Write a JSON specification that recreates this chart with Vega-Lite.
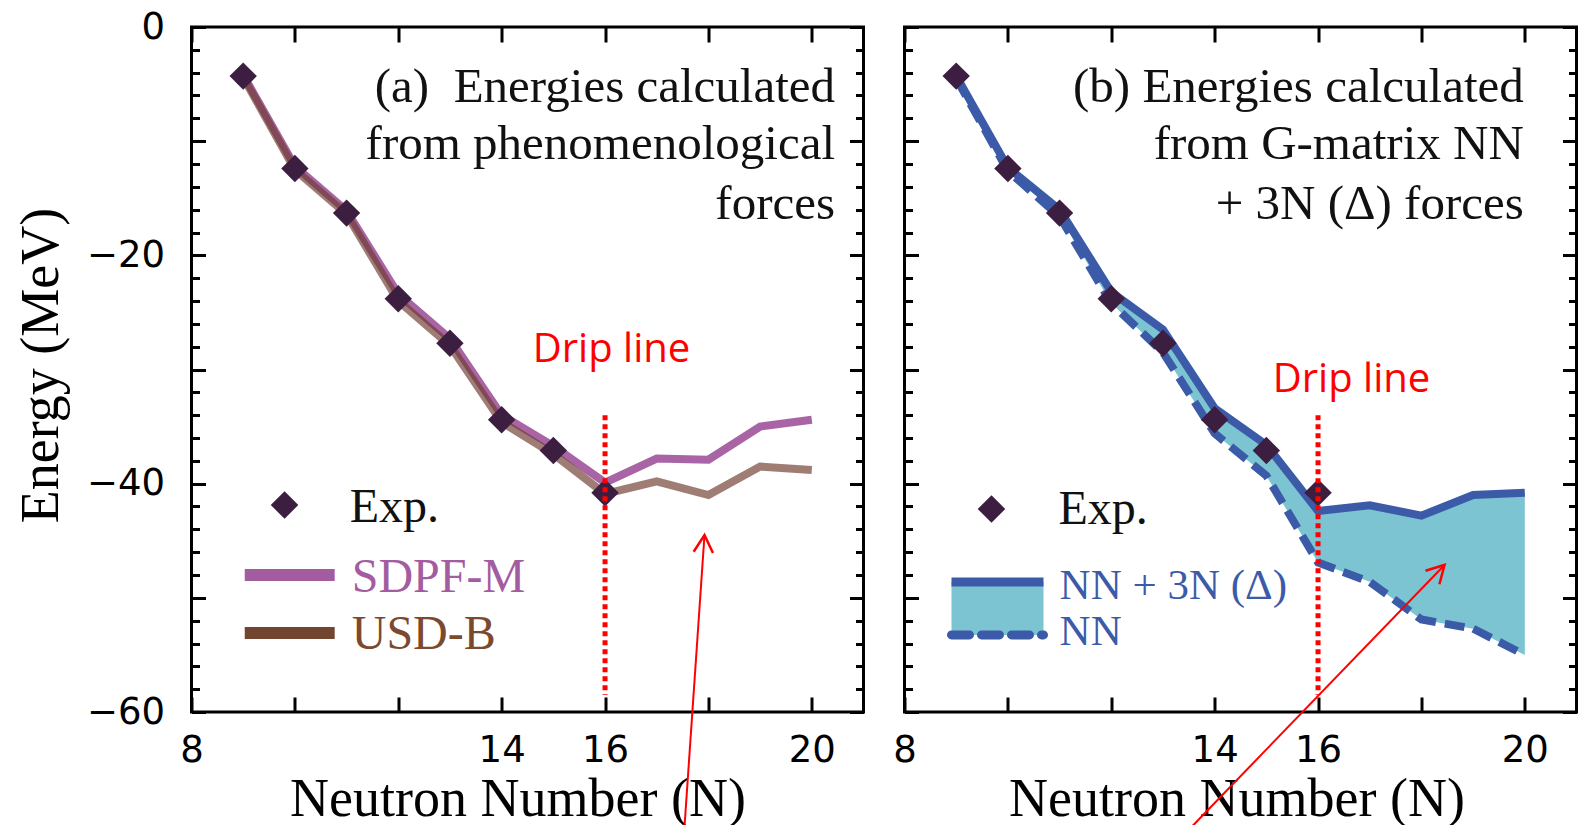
{
  "$schema": "https://vega.github.io/schema/vega-lite/v6.json",
  "background": "white",
  "autosize": {"type": "pad"},
  "padding": {"left": 12.5, "top": 6, "right": 0, "bottom": 0},
  "bounds": "flush",
  "spacing": 41,
  "datasets": {
    "exp": [
      {"N": 9, "E": -4.3}, {"N": 10, "E": -12.4}, {"N": 11, "E": -16.3}, {"N": 12, "E": -23.8},
      {"N": 13, "E": -27.7}, {"N": 14, "E": -34.4}, {"N": 15, "E": -37.1}, {"N": 16, "E": -40.8}
    ],
    "shellA": [
      {"N": 9, "sdpfm": -4.2, "usdb": -4.4},
      {"N": 10, "sdpfm": -12.2, "usdb": -12.5},
      {"N": 11, "sdpfm": -16.1, "usdb": -16.4},
      {"N": 12, "sdpfm": -23.4, "usdb": -24.0},
      {"N": 13, "sdpfm": -27.3, "usdb": -27.9},
      {"N": 14, "sdpfm": -34.0, "usdb": -34.6},
      {"N": 15, "sdpfm": -36.7, "usdb": -37.4},
      {"N": 16, "sdpfm": -39.9, "usdb": -40.9},
      {"N": 17, "sdpfm": -37.8, "usdb": -39.8},
      {"N": 18, "sdpfm": -37.9, "usdb": -41.0},
      {"N": 19, "sdpfm": -35.0, "usdb": -38.5},
      {"N": 20, "sdpfm": -34.4, "usdb": -38.8}
    ],
    "shellB": [
      {"N": 9, "full": -4.3, "nn": -4.5},
      {"N": 10, "full": -12.3, "nn": -12.6},
      {"N": 11, "full": -16.0, "nn": -16.6},
      {"N": 12, "full": -23.2, "nn": -24.2},
      {"N": 13, "full": -26.5, "nn": -28.5},
      {"N": 14, "full": -33.4, "nn": -35.6},
      {"N": 15, "full": -36.6, "nn": -39.3},
      {"N": 16, "full": -42.4, "nn": -46.9},
      {"N": 17, "full": -41.9, "nn": -48.6},
      {"N": 18, "full": -42.8, "nn": -51.9},
      {"N": 19, "full": -41.0, "nn": -52.7},
      {"N": 20, "full": -40.8, "nn": -55.0}
    ],
    "notesA": [
      {"N": 20.45, "E": -6.57, "text": "(a)\u00a0 Energies calculated"},
      {"N": 20.45, "E": -11.56, "text": "from phenomenological"},
      {"N": 20.45, "E": -16.82, "text": "forces"}
    ],
    "notesB": [
      {"N": 19.98, "E": -6.57, "text": "(b) Energies calculated"},
      {"N": 19.98, "E": -11.56, "text": "from G-matrix NN"},
      {"N": 19.98, "E": -16.82, "text": "+ 3N (Δ) forces"}
    ],
    "drip": [{"N": 16, "E": -34, "E2": -58.5}],
    "dripA": [{"N": 16.125, "E": -29.34, "text": "Drip line"}],
    "dripB": [{"N": 16.647, "E": -31.97, "text": "Drip line"}],
    "arrowA": [{"N": 17.537, "E": -70.07, "N2": 17.924, "E2": -44.5}],
    "arrowB": [{"N": 13.552, "E": -70.07, "N2": 18.447, "E2": -47.12}],
    "keyA": [
      {"item": "Exp.", "N": 9.8, "E": -41.87, "Nl": 11.06, "El": -43.36},
      {"item": "SDPF-M", "N": 9.03, "N2": 10.77, "E": -48.0, "Nl": 11.1, "El": -49.49},
      {"item": "USD-B", "N": 9.03, "N2": 10.77, "E": -53.08, "Nl": 11.1, "El": -54.48}
    ],
    "keyB": [
      {"item": "Exp.", "N": 9.683, "E": -42.22, "Nl": 10.98, "El": -43.53},
      {"item": "NN + 3N (Δ)", "N": 8.909, "N2": 10.689, "E": -48.61, "E2": -53.25, "Nl": 11.0, "El": -50.1},
      {"item": "NN", "N": 8.909, "N2": 10.689, "E": -53.25, "Nl": 11.0, "El": -54.13}
    ]
  },
  "hconcat": [
    {
      "width": 672,
      "height": 685,
      "resolve": {"axis": {"x": "independent", "y": "independent"}},
      "layer": [
        {
          "data": {"name": "exp"},
          "mark": {"type": "point", "opacity": 0},
          "encoding": {
            "x": {"field": "N", "type": "quantitative", "scale": {"domain": [8, 21], "nice": false, "zero": false},
              "axis": {"orient": "bottom", "values": [8, 14, 16, 20], "ticks": false, "tickSize": 0, "labelPadding": 20,
                "title": "Neutron Number (N)", "titleX": 326, "titleY": 103, "titleAlign": "center", "titleBaseline": "alphabetic"}},
            "y": {"field": "E", "type": "quantitative", "scale": {"domain": [-60, 0], "nice": false, "zero": false},
              "axis": {"orient": "left", "values": [0, -20, -40, -60], "ticks": false, "tickSize": 0, "labelPadding": 27,
                "title": "Energy (MeV)", "titleAngle": 270, "titleX": -134.5, "titleY": 338, "titleAlign": "center", "titleBaseline": "alphabetic"}}
          }
        },
        {
          "data": {"name": "exp"},
          "mark": {"type": "point", "opacity": 0},
          "encoding": {
            "x": {"field": "N", "type": "quantitative", "scale": {"domain": [8, 21], "nice": false, "zero": false},
              "axis": {"orient": "bottom", "values": [8, 10, 12, 14, 16, 18, 20], "tickSize": -15, "labels": false, "title": null}},
            "y": {"field": "E", "type": "quantitative", "scale": {"domain": [-60, 0], "nice": false, "zero": false},
              "axis": {"orient": "left", "values": [0, -10, -20, -30, -40, -50, -60], "tickSize": -14, "labels": false, "title": null}}
          }
        },
        {
          "data": {"name": "exp"},
          "mark": {"type": "point", "opacity": 0},
          "encoding": {
            "x": {"field": "N", "type": "quantitative", "scale": {"domain": [8, 21], "nice": false, "zero": false},
              "axis": {"orient": "top", "values": [8, 10, 12, 14, 16, 18, 20], "tickSize": -15, "labels": false, "title": null}},
            "y": {"field": "E", "type": "quantitative", "scale": {"domain": [-60, 0], "nice": false, "zero": false},
              "axis": {"orient": "left", "values": [-58, -56, -54, -52, -48, -46, -44, -42, -38, -36, -34, -32, -28, -26, -24, -22, -18, -16, -14, -12, -8, -6, -4, -2], "tickSize": -8, "labels": false, "title": null}}
          }
        },
        {
          "data": {"name": "exp"},
          "mark": {"type": "point", "opacity": 0},
          "encoding": {
            "x": {"field": "N", "type": "quantitative", "scale": {"domain": [8, 21], "nice": false, "zero": false}, "axis": null},
            "y": {"field": "E", "type": "quantitative", "scale": {"domain": [-60, 0], "nice": false, "zero": false},
              "axis": {"orient": "right", "values": [0, -10, -20, -30, -40, -50, -60], "tickSize": -14, "labels": false, "title": null}}
          }
        },
        {
          "data": {"name": "exp"},
          "mark": {"type": "point", "opacity": 0},
          "encoding": {
            "x": {"field": "N", "type": "quantitative", "scale": {"domain": [8, 21], "nice": false, "zero": false}, "axis": null},
            "y": {"field": "E", "type": "quantitative", "scale": {"domain": [-60, 0], "nice": false, "zero": false},
              "axis": {"orient": "right", "values": [-58, -56, -54, -52, -48, -46, -44, -42, -38, -36, -34, -32, -28, -26, -24, -22, -18, -16, -14, -12, -8, -6, -4, -2], "tickSize": -8, "labels": false, "title": null}}
          }
        },
        {
          "data": {"name": "shellA"},
          "mark": {"type": "line", "color": "#A35CA0", "strokeWidth": 8, "opacity": 0.95},
          "encoding": {
            "x": {"field": "N", "type": "quantitative", "scale": {"domain": [8, 21], "nice": false, "zero": false}, "axis": null},
            "y": {"field": "sdpfm", "type": "quantitative", "scale": {"domain": [-60, 0], "nice": false, "zero": false}, "axis": null}
          }
        },
        {
          "data": {"name": "shellA"},
          "mark": {"type": "line", "color": "#6E3A2E", "strokeWidth": 8, "opacity": 0.66},
          "encoding": {
            "x": {"field": "N", "type": "quantitative", "scale": {"domain": [8, 21], "nice": false, "zero": false}, "axis": null},
            "y": {"field": "usdb", "type": "quantitative", "scale": {"domain": [-60, 0], "nice": false, "zero": false}, "axis": null}
          }
        },
        {
          "data": {"name": "exp"},
          "mark": {"type": "point", "shape": "diamond", "filled": true, "size": 750, "color": "#3C1F40", "opacity": 1},
          "encoding": {
            "x": {"field": "N", "type": "quantitative", "scale": {"domain": [8, 21], "nice": false, "zero": false}, "axis": null},
            "y": {"field": "E", "type": "quantitative", "scale": {"domain": [-60, 0], "nice": false, "zero": false}, "axis": null}
          }
        },
        {
          "data": {"name": "drip"},
          "mark": {"type": "rule", "color": "#FF0000", "strokeWidth": 5, "strokeDash": [5, 4]},
          "encoding": {
            "x": {"field": "N", "type": "quantitative", "scale": {"domain": [8, 21], "nice": false, "zero": false}, "axis": null},
            "y": {"field": "E", "type": "quantitative", "scale": {"domain": [-60, 0], "nice": false, "zero": false}, "axis": null},
            "y2": {"field": "E2"}
          }
        },
        {
          "data": {"name": "dripA"},
          "mark": {"type": "text", "font": "Open Sans", "fontSize": 40, "color": "#FF0000", "align": "center", "baseline": "alphabetic"},
          "encoding": {
            "x": {"field": "N", "type": "quantitative", "scale": {"domain": [8, 21], "nice": false, "zero": false}, "axis": null},
            "y": {"field": "E", "type": "quantitative", "scale": {"domain": [-60, 0], "nice": false, "zero": false}, "axis": null},
            "text": {"field": "text"}
          }
        },
        {
          "data": {"name": "notesA"},
          "mark": {"type": "text", "font": "Liberation Serif", "fontSize": 49, "color": "#111111", "align": "right", "baseline": "alphabetic"},
          "encoding": {
            "x": {"field": "N", "type": "quantitative", "scale": {"domain": [8, 21], "nice": false, "zero": false}, "axis": null},
            "y": {"field": "E", "type": "quantitative", "scale": {"domain": [-60, 0], "nice": false, "zero": false}, "axis": null},
            "text": {"field": "text"}
          }
        },
        {
          "data": {"name": "keyA"},
          "transform": [{"filter": {"field": "item", "equal": "Exp."}}],
          "mark": {"type": "point", "shape": "diamond", "filled": true, "size": 760, "color": "#3C1F40", "opacity": 1},
          "encoding": {
            "x": {"field": "N", "type": "quantitative", "scale": {"domain": [8, 21], "nice": false, "zero": false}, "axis": null},
            "y": {"field": "E", "type": "quantitative", "scale": {"domain": [-60, 0], "nice": false, "zero": false}, "axis": null}
          }
        },
        {
          "data": {"name": "keyA"},
          "transform": [{"filter": {"field": "item", "equal": "SDPF-M"}}],
          "mark": {"type": "rule", "color": "#A35CA0", "strokeWidth": 12},
          "encoding": {
            "x": {"field": "N", "type": "quantitative", "scale": {"domain": [8, 21], "nice": false, "zero": false}, "axis": null},
            "x2": {"field": "N2"},
            "y": {"field": "E", "type": "quantitative", "scale": {"domain": [-60, 0], "nice": false, "zero": false}, "axis": null}
          }
        },
        {
          "data": {"name": "keyA"},
          "transform": [{"filter": {"field": "item", "equal": "USD-B"}}],
          "mark": {"type": "rule", "color": "#714530", "strokeWidth": 12},
          "encoding": {
            "x": {"field": "N", "type": "quantitative", "scale": {"domain": [8, 21], "nice": false, "zero": false}, "axis": null},
            "x2": {"field": "N2"},
            "y": {"field": "E", "type": "quantitative", "scale": {"domain": [-60, 0], "nice": false, "zero": false}, "axis": null}
          }
        },
        {
          "data": {"name": "keyA"},
          "transform": [{"filter": {"field": "item", "equal": "Exp."}}],
          "mark": {"type": "text", "font": "Liberation Serif", "fontSize": 48, "color": "#111111", "align": "left", "baseline": "alphabetic"},
          "encoding": {
            "x": {"field": "Nl", "type": "quantitative", "scale": {"domain": [8, 21], "nice": false, "zero": false}, "axis": null},
            "y": {"field": "El", "type": "quantitative", "scale": {"domain": [-60, 0], "nice": false, "zero": false}, "axis": null},
            "text": {"field": "item"}
          }
        },
        {
          "data": {"name": "keyA"},
          "transform": [{"filter": {"field": "item", "equal": "SDPF-M"}}],
          "mark": {"type": "text", "font": "Liberation Serif", "fontSize": 48, "color": "#A35CA0", "align": "left", "baseline": "alphabetic"},
          "encoding": {
            "x": {"field": "Nl", "type": "quantitative", "scale": {"domain": [8, 21], "nice": false, "zero": false}, "axis": null},
            "y": {"field": "El", "type": "quantitative", "scale": {"domain": [-60, 0], "nice": false, "zero": false}, "axis": null},
            "text": {"field": "item"}
          }
        },
        {
          "data": {"name": "keyA"},
          "transform": [{"filter": {"field": "item", "equal": "USD-B"}}],
          "mark": {"type": "text", "font": "Liberation Serif", "fontSize": 48, "color": "#7B4A2E", "align": "left", "baseline": "alphabetic"},
          "encoding": {
            "x": {"field": "Nl", "type": "quantitative", "scale": {"domain": [8, 21], "nice": false, "zero": false}, "axis": null},
            "y": {"field": "El", "type": "quantitative", "scale": {"domain": [-60, 0], "nice": false, "zero": false}, "axis": null},
            "text": {"field": "item"}
          }
        },
        {
          "data": {"name": "arrowA"},
          "mark": {"type": "rule", "color": "#FF0000", "strokeWidth": 2},
          "encoding": {
            "x": {"field": "N", "type": "quantitative", "scale": {"domain": [8, 21], "nice": false, "zero": false}, "axis": null},
            "y": {"field": "E", "type": "quantitative", "scale": {"domain": [-60, 0], "nice": false, "zero": false}, "axis": null},
            "x2": {"field": "N2"},
            "y2": {"field": "E2"}
          }
        },
        {
          "data": {"name": "arrowA"},
          "mark": {"type": "point", "shape": "M-0.5,0.9L0,0L0.5,0.9", "filled": false, "size": 1500, "color": "#FF0000", "strokeWidth": 2.5, "angle": 3.9, "opacity": 1},
          "encoding": {
            "x": {"field": "N2", "type": "quantitative", "scale": {"domain": [8, 21], "nice": false, "zero": false}, "axis": null},
            "y": {"field": "E2", "type": "quantitative", "scale": {"domain": [-60, 0], "nice": false, "zero": false}, "axis": null}
          }
        }
      ]
    },
    {
      "width": 672,
      "height": 685,
      "resolve": {"axis": {"x": "independent", "y": "independent"}},
      "layer": [
        {
          "data": {"name": "exp"},
          "mark": {"type": "point", "opacity": 0},
          "encoding": {
            "x": {"field": "N", "type": "quantitative", "scale": {"domain": [8, 21], "nice": false, "zero": false},
              "axis": {"orient": "bottom", "values": [8, 14, 16, 20], "ticks": false, "tickSize": 0, "labelPadding": 20,
                "title": "Neutron Number (N)", "titleX": 332, "titleY": 103, "titleAlign": "center", "titleBaseline": "alphabetic"}},
            "y": {"field": "E", "type": "quantitative", "scale": {"domain": [-60, 0], "nice": false, "zero": false}, "axis": null}
          }
        },
        {
          "data": {"name": "exp"},
          "mark": {"type": "point", "opacity": 0},
          "encoding": {
            "x": {"field": "N", "type": "quantitative", "scale": {"domain": [8, 21], "nice": false, "zero": false},
              "axis": {"orient": "bottom", "values": [8, 10, 12, 14, 16, 18, 20], "tickSize": -15, "labels": false, "title": null}},
            "y": {"field": "E", "type": "quantitative", "scale": {"domain": [-60, 0], "nice": false, "zero": false},
              "axis": {"orient": "left", "values": [0, -10, -20, -30, -40, -50, -60], "tickSize": -14, "labels": false, "title": null}}
          }
        },
        {
          "data": {"name": "exp"},
          "mark": {"type": "point", "opacity": 0},
          "encoding": {
            "x": {"field": "N", "type": "quantitative", "scale": {"domain": [8, 21], "nice": false, "zero": false},
              "axis": {"orient": "top", "values": [8, 10, 12, 14, 16, 18, 20], "tickSize": -15, "labels": false, "title": null}},
            "y": {"field": "E", "type": "quantitative", "scale": {"domain": [-60, 0], "nice": false, "zero": false},
              "axis": {"orient": "left", "values": [-58, -56, -54, -52, -48, -46, -44, -42, -38, -36, -34, -32, -28, -26, -24, -22, -18, -16, -14, -12, -8, -6, -4, -2], "tickSize": -8, "labels": false, "title": null}}
          }
        },
        {
          "data": {"name": "exp"},
          "mark": {"type": "point", "opacity": 0},
          "encoding": {
            "x": {"field": "N", "type": "quantitative", "scale": {"domain": [8, 21], "nice": false, "zero": false}, "axis": null},
            "y": {"field": "E", "type": "quantitative", "scale": {"domain": [-60, 0], "nice": false, "zero": false},
              "axis": {"orient": "right", "values": [0, -10, -20, -30, -40, -50, -60], "tickSize": -14, "labels": false, "title": null}}
          }
        },
        {
          "data": {"name": "exp"},
          "mark": {"type": "point", "opacity": 0},
          "encoding": {
            "x": {"field": "N", "type": "quantitative", "scale": {"domain": [8, 21], "nice": false, "zero": false}, "axis": null},
            "y": {"field": "E", "type": "quantitative", "scale": {"domain": [-60, 0], "nice": false, "zero": false},
              "axis": {"orient": "right", "values": [-58, -56, -54, -52, -48, -46, -44, -42, -38, -36, -34, -32, -28, -26, -24, -22, -18, -16, -14, -12, -8, -6, -4, -2], "tickSize": -8, "labels": false, "title": null}}
          }
        },
        {
          "data": {"name": "shellB"},
          "mark": {"type": "area", "color": "#7CC4D2", "opacity": 1},
          "encoding": {
            "x": {"field": "N", "type": "quantitative", "scale": {"domain": [8, 21], "nice": false, "zero": false}, "axis": null},
            "y": {"field": "full", "type": "quantitative", "scale": {"domain": [-60, 0], "nice": false, "zero": false}, "axis": null},
            "y2": {"field": "nn"}
          }
        },
        {
          "data": {"name": "shellB"},
          "mark": {"type": "line", "color": "#3B5BA9", "strokeWidth": 8, "strokeDash": [20, 9]},
          "encoding": {
            "x": {"field": "N", "type": "quantitative", "scale": {"domain": [8, 21], "nice": false, "zero": false}, "axis": null},
            "y": {"field": "nn", "type": "quantitative", "scale": {"domain": [-60, 0], "nice": false, "zero": false}, "axis": null}
          }
        },
        {
          "data": {"name": "shellB"},
          "mark": {"type": "line", "color": "#3B5BA9", "strokeWidth": 8},
          "encoding": {
            "x": {"field": "N", "type": "quantitative", "scale": {"domain": [8, 21], "nice": false, "zero": false}, "axis": null},
            "y": {"field": "full", "type": "quantitative", "scale": {"domain": [-60, 0], "nice": false, "zero": false}, "axis": null}
          }
        },
        {
          "data": {"name": "exp"},
          "mark": {"type": "point", "shape": "diamond", "filled": true, "size": 750, "color": "#3C1F40", "opacity": 1},
          "encoding": {
            "x": {"field": "N", "type": "quantitative", "scale": {"domain": [8, 21], "nice": false, "zero": false}, "axis": null},
            "y": {"field": "E", "type": "quantitative", "scale": {"domain": [-60, 0], "nice": false, "zero": false}, "axis": null}
          }
        },
        {
          "data": {"name": "drip"},
          "mark": {"type": "rule", "color": "#FF0000", "strokeWidth": 5, "strokeDash": [5, 4]},
          "encoding": {
            "x": {"field": "N", "type": "quantitative", "scale": {"domain": [8, 21], "nice": false, "zero": false}, "axis": null},
            "y": {"field": "E", "type": "quantitative", "scale": {"domain": [-60, 0], "nice": false, "zero": false}, "axis": null},
            "y2": {"field": "E2"}
          }
        },
        {
          "data": {"name": "dripB"},
          "mark": {"type": "text", "font": "Open Sans", "fontSize": 40, "color": "#FF0000", "align": "center", "baseline": "alphabetic"},
          "encoding": {
            "x": {"field": "N", "type": "quantitative", "scale": {"domain": [8, 21], "nice": false, "zero": false}, "axis": null},
            "y": {"field": "E", "type": "quantitative", "scale": {"domain": [-60, 0], "nice": false, "zero": false}, "axis": null},
            "text": {"field": "text"}
          }
        },
        {
          "data": {"name": "notesB"},
          "mark": {"type": "text", "font": "Liberation Serif", "fontSize": 49, "color": "#111111", "align": "right", "baseline": "alphabetic"},
          "encoding": {
            "x": {"field": "N", "type": "quantitative", "scale": {"domain": [8, 21], "nice": false, "zero": false}, "axis": null},
            "y": {"field": "E", "type": "quantitative", "scale": {"domain": [-60, 0], "nice": false, "zero": false}, "axis": null},
            "text": {"field": "text"}
          }
        },
        {
          "data": {"name": "keyB"},
          "transform": [{"filter": {"field": "item", "equal": "Exp."}}],
          "mark": {"type": "point", "shape": "diamond", "filled": true, "size": 760, "color": "#3C1F40", "opacity": 1},
          "encoding": {
            "x": {"field": "N", "type": "quantitative", "scale": {"domain": [8, 21], "nice": false, "zero": false}, "axis": null},
            "y": {"field": "E", "type": "quantitative", "scale": {"domain": [-60, 0], "nice": false, "zero": false}, "axis": null}
          }
        },
        {
          "data": {"name": "keyB"},
          "transform": [{"filter": {"field": "item", "equal": "NN + 3N (Δ)"}}],
          "mark": {"type": "rect", "color": "#7CC4D2", "opacity": 1},
          "encoding": {
            "x": {"field": "N", "type": "quantitative", "scale": {"domain": [8, 21], "nice": false, "zero": false}, "axis": null},
            "x2": {"field": "N2"},
            "y": {"field": "E", "type": "quantitative", "scale": {"domain": [-60, 0], "nice": false, "zero": false}, "axis": null},
            "y2": {"field": "E2"}
          }
        },
        {
          "data": {"name": "keyB"},
          "transform": [{"filter": {"field": "item", "equal": "NN + 3N (Δ)"}}],
          "mark": {"type": "rule", "color": "#3B5BA9", "strokeWidth": 9},
          "encoding": {
            "x": {"field": "N", "type": "quantitative", "scale": {"domain": [8, 21], "nice": false, "zero": false}, "axis": null},
            "x2": {"field": "N2"},
            "y": {"field": "E", "type": "quantitative", "scale": {"domain": [-60, 0], "nice": false, "zero": false}, "axis": null}
          }
        },
        {
          "data": {"name": "keyB"},
          "transform": [{"filter": {"field": "item", "equal": "NN"}}],
          "mark": {"type": "rule", "color": "#3B5BA9", "strokeWidth": 9, "strokeDash": [18, 12], "strokeCap": "round"},
          "encoding": {
            "x": {"field": "N", "type": "quantitative", "scale": {"domain": [8, 21], "nice": false, "zero": false}, "axis": null},
            "x2": {"field": "N2"},
            "y": {"field": "E", "type": "quantitative", "scale": {"domain": [-60, 0], "nice": false, "zero": false}, "axis": null}
          }
        },
        {
          "data": {"name": "keyB"},
          "transform": [{"filter": {"field": "item", "equal": "Exp."}}],
          "mark": {"type": "text", "font": "Liberation Serif", "fontSize": 48, "color": "#111111", "align": "left", "baseline": "alphabetic"},
          "encoding": {
            "x": {"field": "Nl", "type": "quantitative", "scale": {"domain": [8, 21], "nice": false, "zero": false}, "axis": null},
            "y": {"field": "El", "type": "quantitative", "scale": {"domain": [-60, 0], "nice": false, "zero": false}, "axis": null},
            "text": {"field": "item"}
          }
        },
        {
          "data": {"name": "keyB"},
          "transform": [{"filter": {"field": "item", "oneOf": ["NN + 3N (Δ)", "NN"]}}],
          "mark": {"type": "text", "font": "Liberation Serif", "fontSize": 43, "color": "#3B5BA9", "align": "left", "baseline": "alphabetic"},
          "encoding": {
            "x": {"field": "Nl", "type": "quantitative", "scale": {"domain": [8, 21], "nice": false, "zero": false}, "axis": null},
            "y": {"field": "El", "type": "quantitative", "scale": {"domain": [-60, 0], "nice": false, "zero": false}, "axis": null},
            "text": {"field": "item"}
          }
        },
        {
          "data": {"name": "arrowB"},
          "mark": {"type": "rule", "color": "#FF0000", "strokeWidth": 2},
          "encoding": {
            "x": {"field": "N", "type": "quantitative", "scale": {"domain": [8, 21], "nice": false, "zero": false}, "axis": null},
            "y": {"field": "E", "type": "quantitative", "scale": {"domain": [-60, 0], "nice": false, "zero": false}, "axis": null},
            "x2": {"field": "N2"},
            "y2": {"field": "E2"}
          }
        },
        {
          "data": {"name": "arrowB"},
          "mark": {"type": "point", "shape": "M-0.5,0.9L0,0L0.5,0.9", "filled": false, "size": 1500, "color": "#FF0000", "strokeWidth": 2.5, "angle": 44, "opacity": 1},
          "encoding": {
            "x": {"field": "N2", "type": "quantitative", "scale": {"domain": [8, 21], "nice": false, "zero": false}, "axis": null},
            "y": {"field": "E2", "type": "quantitative", "scale": {"domain": [-60, 0], "nice": false, "zero": false}, "axis": null}
          }
        }
      ]
    }
  ],
  "config": {
    "view": {"stroke": "#000000", "strokeWidth": 3},
    "axis": {
      "grid": false,
      "domain": false,
      "tickColor": "#000000",
      "tickWidth": 3,
      "labelColor": "#000000",
      "labelFont": "DejaVu Sans",
      "labelFontSize": 37,
      "titleFont": "Liberation Serif",
      "titleFontSize": 54,
      "titleFontWeight": "normal",
      "titleColor": "#000000",
      "labelFlush": false,
      "labelOverlap": false,
      "labelBound": false
    }
  }
}
